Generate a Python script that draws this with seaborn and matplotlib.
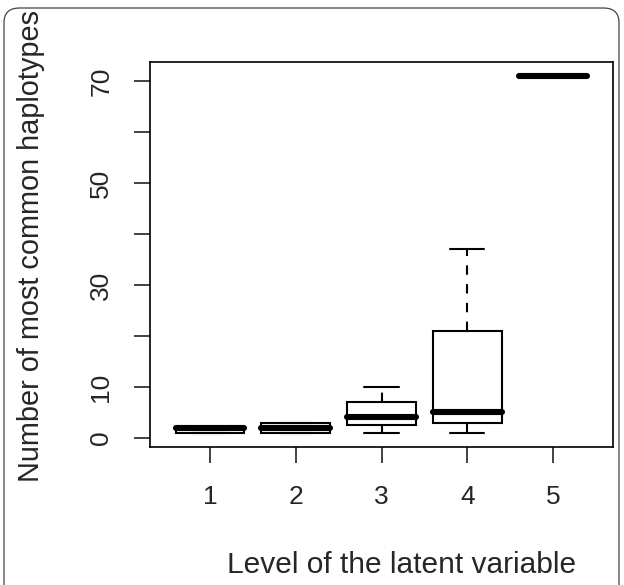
import seaborn as sns
import pandas as pd
import matplotlib.pyplot as plt
from matplotlib.patches import FancyBboxPatch

# values (raw counts per level)
level_1 = [1, 1, 2, 2, 2]
level_2 = [1, 1, 2, 3, 3]
level_3 = [1, 2, 3, 4, 6, 8, 10]
level_4 = [1, 2, 3, 4, 5, 6, 21, 30, 37]
level_5 = [71]

levels = ["1", "2", "3", "4", "5"]
groups = [level_1, level_2, level_3, level_4, level_5]

y_ticks = [0, 10, 20, 30, 40, 50, 60, 70]
y_labels = ["0", "10", "", "30", "", "50", "", "70"]

rows = []
for lev, vals in zip(levels, groups):
    for v in vals:
        rows.append({"level": lev, "count": v})
df = pd.DataFrame(rows)

sns.set_style("ticks")
plt.rcParams["font.family"] = ["Liberation Sans", "DejaVu Sans"]

fig = plt.figure(figsize=(6.24, 5.85), dpi=100)
ax = fig.add_axes([150 / 624, (585 - 447) / 585, 463 / 624, 385 / 585])

sns.boxplot(data=df, x="level", y="count", order=levels, ax=ax,
            color="white", linecolor="black", linewidth=1.5, width=0.8,
            fliersize=0,
            medianprops={"linewidth": 4.4, "solid_capstyle": "round"},
            whiskerprops={"linestyle": (0, (4.5, 4.5))})

ax.set_xlim(-0.7, 4.7)
ax.set_ylim(-1.8, 73.8)
ax.set_yticks(y_ticks)
ax.set_yticklabels(y_labels, rotation=90, va="center")

for s in ax.spines.values():
    s.set_visible(True)
    s.set_color("black")
    s.set_linewidth(1.2)

ax.tick_params(axis="both", length=11.5, width=1.2, color="#222222",
               labelsize=19, direction="out")
ax.tick_params(axis="x", pad=16)
ax.tick_params(axis="y", pad=15)

ax.set_xlabel("Level of the latent variable", fontsize=21.5)
ax.set_ylabel("Number of most common haplotypes", fontsize=20.8)
ax.xaxis.set_label_coords((402 - 150) / 463, (447 - 551) / 385)
ax.yaxis.set_label_coords((45 - 150) / 463, 0.522)

# rounded panel border around the figure
border = FancyBboxPatch((4 / 624, -0.05), 615 / 624, (585 - 8) / 585 + 0.05,
                        boxstyle="round,pad=0,rounding_size=0.025",
                        transform=fig.transFigure, fill=False,
                        edgecolor="#444444", linewidth=0.9)
fig.patches.append(border)

fig.savefig("out.png", dpi=100)
